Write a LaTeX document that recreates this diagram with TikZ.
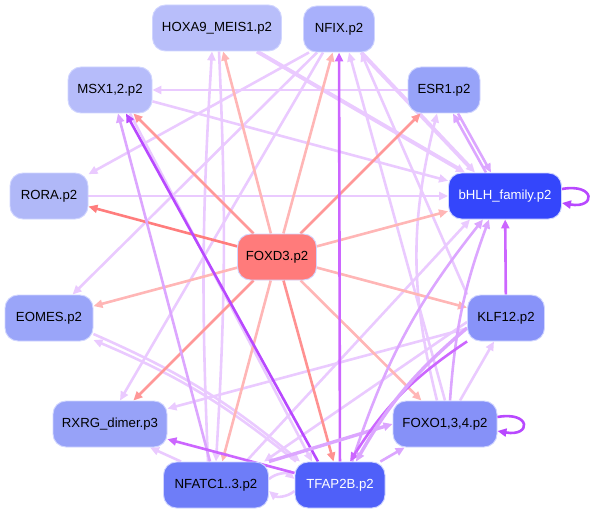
\documentclass[tikz,border=0pt]{standalone}
\usepackage{fontspec}
\setmainfont{Liberation Sans}
\usepackage{xcolor}
\usepackage{tikz}
\usetikzlibrary{arrows.meta,positioning,calc,backgrounds}
\definecolor{genebord}{RGB}{208,213,255}
\definecolor{hoxafill}{RGB}{184,190,250}
\definecolor{nfixfill}{RGB}{168,176,251}
\definecolor{msxfill}{RGB}{182,188,250}
\definecolor{esrfill}{RGB}{151,163,249}
\definecolor{rorafill}{RGB}{176,184,248}
\definecolor{bhlhfill}{RGB}{52,70,251}
\definecolor{foxdfill}{RGB}{255,123,123}
\definecolor{eomesfill}{RGB}{154,165,249}
\definecolor{klffill}{RGB}{136,147,249}
\definecolor{rxrgfill}{RGB}{151,162,248}
\definecolor{foxofill}{RGB}{134,145,248}
\definecolor{nfatfill}{RGB}{110,125,248}
\definecolor{tfapfill}{RGB}{79,96,249}
\definecolor{lpink}{RGB}{255,182,182}
\definecolor{mpink}{RGB}{255,152,152}
\definecolor{dpink}{RGB}{255,125,125}
\definecolor{lpurp}{RGB}{234,202,255}
\definecolor{mpurp}{RGB}{220,166,255}
\definecolor{spurp}{RGB}{204,102,255}
\definecolor{dpurp}{RGB}{184,72,255}
\newcommand{\genefont}{\fontsize{13.2}{15}\selectfont}

\begin{document}
\begin{tikzpicture}[x=1pt, y=1pt, >={Triangle[length=9pt,width=8pt]},
    tfnode/.style={draw=genebord, line width=0.9pt, rectangle, rounded corners=13pt, minimum height=46pt, inner sep=3pt, align=center, font=\genefont},
    redge/.style={->, line width=2.6pt, draw=lpink},
    ledge/.style={->, line width=2.6pt, draw=lpurp},
    pedge/.style={->, line width=2.6pt, draw=mpurp}]
    \useasboundingbox (0,0) rectangle (593,515);

    % Nodes on a ring round FOXD3
    \node [tfnode, fill=hoxafill, minimum width=129pt] (hoxa9) at (217,487) {HOXA9\_MEIS1.p2};
    \node [tfnode, fill=nfixfill, minimum width=71pt] (nfix) at (339,486) {NFIX.p2};
    \node [tfnode, fill=msxfill, minimum width=84pt] (msx1) at (110,425) {MSX1,2.p2};
    \node [tfnode, fill=esrfill, minimum width=72pt] (esr1) at (444,425) {ESR1.p2};
    \node [tfnode, fill=rorafill, minimum width=78pt] (rora) at (49,319) {RORA.p2};
    \node [tfnode, fill=bhlhfill, minimum width=113pt, text=white] (bhlh) at (505,319) {bHLH\_family.p2};
    \node [tfnode, fill=foxdfill, minimum width=79pt] (foxd3) at (277,258) {FOXD3.p2};
    \node [tfnode, fill=eomesfill, minimum width=88pt] (eomes) at (49,197) {EOMES.p2};
    \node [tfnode, fill=klffill, minimum width=77pt] (klf12) at (506,197) {KLF12.p2};
    \node [tfnode, fill=rxrgfill, minimum width=114pt] (rxrg) at (110,91) {RXRG\_dimer.p3};
    \node [tfnode, fill=foxofill, minimum width=104pt] (foxo) at (445,91) {FOXO1,3,4.p2};
    \node [tfnode, fill=nfatfill, minimum width=105pt] (nfatc) at (216,30) {NFATC1..3.p2};
    \node [tfnode, fill=tfapfill, minimum width=90pt, text=white] (tfap2b) at (340,30) {TFAP2B.p2};

    \begin{scope}[on background layer]
    % Light purple edges
    \draw[ledge] (esr1) -- (msx1);
    \draw[ledge] (rora) -- (bhlh);
    \draw[ledge] (msx1) -- (bhlh);
    \draw[ledge] ([xshift=-30pt]nfix.south) -- (rora);
    \draw[ledge] ([xshift=-22pt]nfix.south) -- (eomes);
    \draw[ledge] ([xshift=-16pt]nfix.south) -- ([xshift=10pt]rxrg.north);
    \draw[ledge, line width=4pt] ([xshift=40pt]hoxa9.south) -- ([xshift=-40pt]bhlh.north);
    \draw[ledge, line width=4pt] (nfix) -- ([xshift=-30pt]bhlh.north);
    \draw[ledge] ([xshift=-8pt]nfatc.north) to[bend left=3] ([xshift=-5pt]hoxa9.south);
    \draw[ledge] ([xshift=2pt]hoxa9.south) to[bend left=3] ([xshift=0pt]nfatc.north);
    \draw[ledge] ([xshift=-8pt]foxo.north) to[bend left=14] ([xshift=-7pt]esr1.south);
    \draw[ledge] (foxo.north) -- ([xshift=10pt]nfix.south);
    \draw[ledge] (klf12.north west) -- ([xshift=22pt]nfix.south);
    \draw[ledge] (klf12) -- (rxrg);
    \draw[ledge] ([xshift=15pt]foxo.north) -- ([xshift=-12pt]klf12.south);
    \draw[ledge] ([yshift=-16pt]eomes.east) to[bend left=8] ([xshift=-40pt]tfap2b.north);
    \draw[ledge] ([xshift=-44pt]tfap2b.north) to[bend right=8] ([yshift=-22pt]eomes.east);
    \draw[ledge] ([xshift=-35pt]nfatc.north) -- ([xshift=40pt]rxrg.south);
    \draw[ledge] ([yshift=6pt]nfatc.east) to[bend left=40] ([yshift=6pt]tfap2b.west);
    \draw[ledge] ([yshift=-6pt]tfap2b.west) to[bend left=40] ([yshift=-6pt]nfatc.east);
    \draw[ledge] ([xshift=30pt]nfatc.north) -- ([xshift=-35pt]bhlh.south);
    \draw[ledge] ([yshift=-4pt]klf12.west) -- ([xshift=48pt]nfatc.north);
    \draw[ledge] ([xshift=20pt]msx1.south) -- ([xshift=-28pt]tfap2b.north);

    % FOXD3 targets
    \draw[redge, dpink] (foxd3) -- (rora);
    \draw[redge, mpink] (foxd3) -- (msx1);
    \draw[redge] (foxd3) -- (hoxa9);
    \draw[redge] (foxd3) -- (nfix);
    \draw[redge, mpink] (foxd3) -- (esr1);
    \draw[redge] (foxd3) -- (bhlh);
    \draw[redge] (foxd3) -- (klf12);
    \draw[redge] (foxd3) -- (foxo);
    \draw[redge, dpink!85!white] (foxd3) -- (tfap2b);
    \draw[redge] (foxd3) -- (nfatc);
    \draw[redge, mpink] (foxd3) -- (rxrg);
    \draw[redge] (foxd3) -- (eomes);

    % Stronger purple edges
    \draw[pedge, spurp] (tfap2b) -- (nfix);
    \draw[pedge, dpurp] ([xshift=-22pt]tfap2b.north) -- ([xshift=16pt]msx1.south);
    \draw[pedge] ([xshift=-6pt]nfatc.north) -- ([xshift=8pt]msx1.south);
    \draw[pedge, spurp] (klf12) -- (bhlh);
    \draw[pedge] ([xshift=14pt]esr1.south) -- ([xshift=-14pt]bhlh.north);
    \draw[pedge] ([xshift=-19pt]bhlh.north) -- ([xshift=9pt]esr1.south);
    \draw[pedge, spurp] (tfap2b) -- (rxrg);
    \draw[pedge] (tfap2b) -- (foxo);
    \draw[pedge, line width=3.4pt] (nfatc.north east) -- (foxo.west);
    \draw[pedge] ([xshift=12pt]tfap2b.north) to[bend left=10] ([xshift=-22pt]bhlh.south);
    \draw[pedge] ([xshift=5pt]foxo.north) to[bend left=8] ([xshift=-16pt]bhlh.south);
    \draw[pedge, spurp] (klf12.south west) to[bend right=12] ([xshift=10pt]tfap2b.north);
    \draw[pedge, line width=3.4pt] ([yshift=-10pt]klf12.west) to[bend right=10] ([xshift=16pt]tfap2b.north);
    \end{scope}

    % Self loops
    \draw[pedge, dpurp] ([yshift=7pt]bhlh.east) .. controls +(34,6) and +(34,-6) .. ([yshift=-7pt]bhlh.east);
    \draw[pedge, dpurp] ([yshift=7pt]foxo.east) .. controls +(34,6) and +(34,-6) .. ([yshift=-7pt]foxo.east);
\end{tikzpicture}
\end{document}
